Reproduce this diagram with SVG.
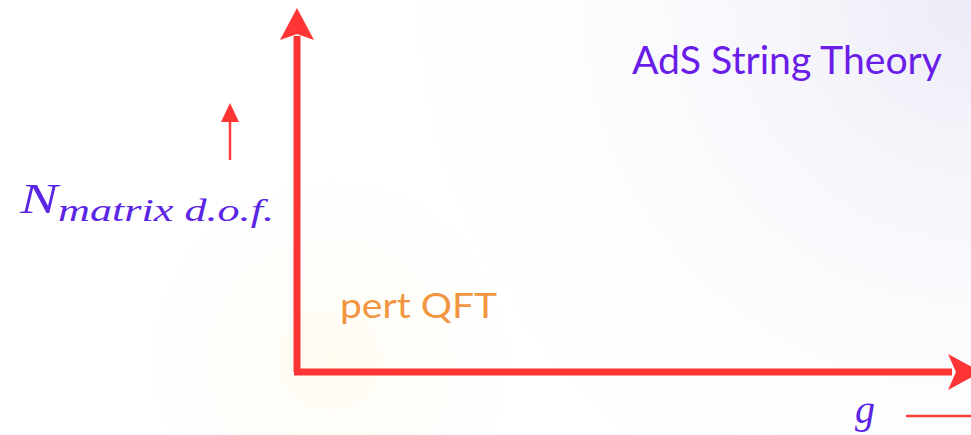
<svg xmlns="http://www.w3.org/2000/svg" width="971" height="435" viewBox="0 0 971 435">
<defs>
<radialGradient id="bgTR" cx="971" cy="0" r="600" gradientUnits="userSpaceOnUse">
<stop offset="0" stop-color="#ecebf7"/>
<stop offset="1" stop-color="#ffffff" stop-opacity="0"/>
</radialGradient>
<radialGradient id="bgBL" cx="330" cy="360" r="220" gradientUnits="userSpaceOnUse">
<stop offset="0" stop-color="#fefbf0"/>
<stop offset="1" stop-color="#ffffff" stop-opacity="0"/>
</radialGradient>
<style>
.axis{stroke:#ff3535;stroke-width:7;fill:none}
.thin{stroke:#ff3b3b;stroke-width:2.5;fill:none}
.head{fill:#ff3535}
.math{font-family:"Liberation Serif","DejaVu Serif",serif;font-style:italic;fill:#5b25e6}
.title{font-family:Lato,"Open Sans",sans-serif;fill:#6a1de8}
.pert{font-family:Lato,"Open Sans",sans-serif;fill:#f29540}
</style>
</defs>
<rect width="971" height="435" fill="#ffffff"/>
<rect width="971" height="435" fill="url(#bgTR)"/>
<rect width="971" height="435" fill="url(#bgBL)"/>
<g id="connectors">
<path class="axis" d="M297 372 V36"/>
<path class="head" d="M297 8 L314 40 L297 34 L280 40 Z"/>
<path class="axis" d="M294 372 H952"/>
<path class="head" d="M981 372 L948 354 L956 372 L948 390 Z"/>
<path class="thin" d="M230 160 V118"/>
<path class="head" d="M230 103 L239 122 L221 122 Z"/>
<path class="thin" d="M906 416 H971"/>
</g>
<g id="node-nlabel">
<text class="math" x="20" y="213" font-size="42" textLength="38" lengthAdjust="spacingAndGlyphs">N</text>
<text class="math" x="58" y="221" font-size="31" textLength="216" lengthAdjust="spacingAndGlyphs">matrix d.o.f.</text>
</g>
<g id="node-g">
<text class="math" x="855" y="423" font-size="40">g</text>
</g>
<g id="node-ads">
<text class="title" x="632" y="74" font-size="38" textLength="310" lengthAdjust="spacingAndGlyphs">AdS String Theory</text>
</g>
<g id="node-pert">
<text class="pert" x="340" y="318" font-size="34" textLength="157" lengthAdjust="spacingAndGlyphs">pert QFT</text>
</g>
</svg>
